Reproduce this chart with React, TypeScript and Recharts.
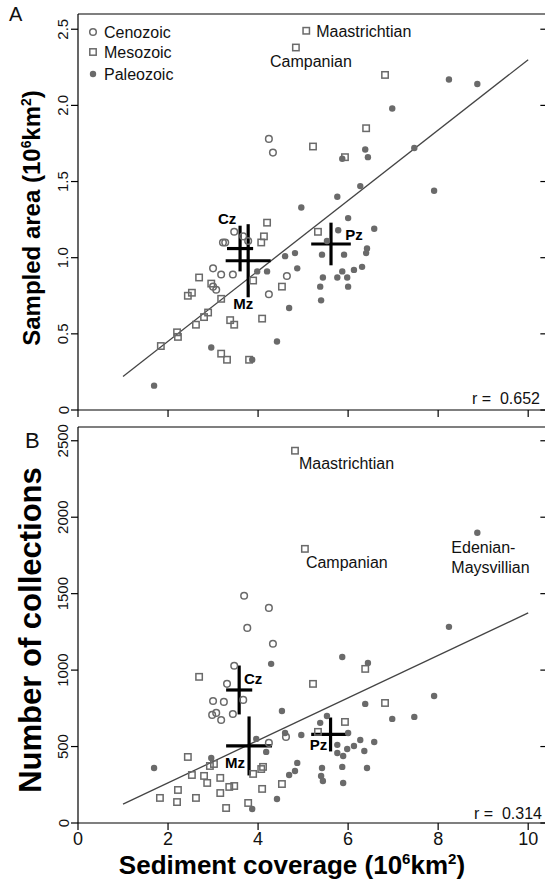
import React from "react";
import { ScatterChart, Scatter, XAxis, YAxis, ReferenceLine, ErrorBar, Label } from "recharts";

const FONT = "'Liberation Sans', Arial, Helvetica, sans-serif";
const GREY = "#6a6a6a";
const INK = "#111";

// ─── shared x axis (sediment coverage, 10^6 km^2) ──────────────────────────
// the plot runs slightly past the right edge of the picture, as in the source figure
const X_MAX = 10.44;
const X_TICKS = [0, 2, 4, 6, 8, 10];
const RIGHT_TICK_FROM = 10.27;
const GROUPS = ["Cz", "Mz", "Pz"];

// ─── panel A: sampled area (10^6 km^2) ───────────────────────────────────────
const Y_MAX_A = 2.6;
const Y_TICKS_A = [0, 0.5, 1, 1.5, 2, 2.5];
const CENOZOIC_A: [number, number][] = [
  [4.24, 1.78], [4.33, 1.69], [3.47, 1.17], [3.67, 1.14], [3.27, 1.1], [3.22, 1.1], [3.78, 1.11],
  [3.0, 0.93], [3.18, 0.89], [3.44, 0.89], [3.0, 0.81], [3.07, 0.79], [4.24, 0.76], [4.64, 0.88],
];
const MESOZOIC_A: [number, number][] = [
  [6.82, 2.2], [6.4, 1.85], [5.22, 1.73], [5.93, 1.66], [5.33, 1.17], [4.2, 1.23], [4.13, 1.14],
  [4.07, 1.1], [2.69, 0.87], [2.53, 0.77], [2.44, 0.75], [2.96, 0.83], [3.89, 0.85], [3.18, 0.73],
  [4.53, 0.81], [2.89, 0.64], [2.8, 0.61], [2.62, 0.56], [3.38, 0.59], [3.47, 0.56], [4.09, 0.6],
  [2.2, 0.51], [2.22, 0.48], [1.84, 0.42], [3.18, 0.37], [3.31, 0.33], [3.8, 0.33],
];
const PALEOZOIC_A: [number, number][] = [
  [8.24, 2.17], [8.87, 2.14], [6.98, 1.98], [6.38, 1.71], [7.47, 1.72], [5.87, 1.65], [6.44, 1.66],
  [6.27, 1.47], [7.91, 1.44], [5.76, 1.4], [4.96, 1.33], [6.0, 1.26], [5.78, 1.18], [6.58, 1.19],
  [5.53, 1.11], [6.42, 1.06], [6.4, 1.03], [4.6, 1.01], [4.82, 1.03], [5.42, 1.02], [5.91, 1.02],
  [4.87, 0.93], [6.31, 0.94], [6.13, 0.92], [5.87, 0.91], [5.44, 0.87], [5.76, 0.87], [5.98, 0.87],
  [5.38, 0.81], [6.0, 0.81], [5.4, 0.72], [4.69, 0.67], [3.98, 0.91], [4.2, 0.91], [4.42, 0.45],
  [2.96, 0.41], [3.87, 0.33], [1.69, 0.16],
];
const NAMED_MESO_A: [string, number, number][] = [
  ["Maastrichtian", 5.07, 2.49],
  ["Campanian", 4.84, 2.38],
];
const MEAN_X_A = [3.6, 3.78, 5.62];
const MEAN_Y_A = [1.06, 0.98, 1.09];
const SPREAD_X_A = [0.29, 0.5, 0.44];
const SPREAD_Y_A = [0.15, 0.24, 0.14];
const FIT_A: [number, number][] = [[1.0, 0.22], [10.0, 2.3]];
const R_A = "0.652";

// ─── panel B: number of collections ──────────────────────────────────────────
const Y_MAX_B = 2590;
const Y_TICKS_B = [0, 500, 1000, 1500, 2000, 2500];
const CENOZOIC_B: [number, number][] = [
  [3.69, 1486], [4.24, 1407], [3.76, 1276], [4.33, 1172], [3.47, 1028], [3.31, 910], [3.67, 805],
  [3.0, 798], [3.24, 792], [3.44, 713], [2.98, 707], [3.07, 720], [3.18, 674], [4.24, 524], [4.62, 563],
];
const MESOZOIC_B: [number, number][] = [
  [6.38, 1008], [5.22, 910], [6.82, 785], [5.93, 661], [5.33, 596], [2.69, 956], [2.44, 432],
  [3.02, 386], [2.93, 373], [4.11, 367], [4.07, 353], [3.89, 321], [2.53, 314], [2.8, 308],
  [2.87, 262], [3.16, 295], [3.36, 236], [3.47, 242], [3.16, 196], [2.22, 216], [2.2, 137],
  [1.82, 164], [2.62, 164], [3.29, 98], [3.78, 131], [4.09, 223], [4.53, 255],
];
const PALEOZOIC_B: [number, number][] = [
  [8.24, 1283], [5.87, 1086], [6.44, 1047], [7.91, 831], [6.38, 779], [6.98, 681], [7.47, 694],
  [4.53, 733], [5.53, 700], [5.38, 655], [6.0, 589], [4.96, 576], [4.6, 589], [6.58, 530],
  [6.27, 543], [6.13, 504], [5.76, 511], [5.98, 484], [5.76, 458], [5.89, 438], [6.36, 471],
  [4.29, 1041], [3.96, 550], [4.18, 465], [1.69, 360], [2.96, 425], [4.69, 314], [4.82, 340],
  [4.87, 393], [5.42, 360], [5.4, 308], [5.44, 275], [5.87, 367], [5.89, 262], [3.87, 92],
  [4.42, 157], [6.42, 360],
];
const NAMED_MESO_B: [string, number, number][] = [
  ["Maastrichtian", 4.82, 2435],
  ["Campanian", 5.04, 1793],
];
const NAMED_PALEO_B: [string, number, number][] = [["Edenian-Maysvillian", 8.87, 1898]];
const MEAN_X_B = [3.58, 3.8, 5.61];
const MEAN_Y_B = [870, 504, 579];
const SPREAD_X_B = [0.29, 0.51, 0.43];
const SPREAD_Y_B = [160, 193, 111];
const FIT_B: [number, number][] = [[1.0, 124], [10.0, 1374]];
const R_B = "0.314";

// label placement (pixels, relative to the point)
const NOTE_A: Record<string, { dx: number; dy: number; anchor: string }> = {
  Maastrichtian: { dx: 10, dy: 0, anchor: "start" },
  Campanian: { dx: 15, dy: 13, anchor: "middle" },
};
const NOTE_B: Record<string, { dx: number; dy: number; anchor: string }> = {
  Maastrichtian: { dx: 4, dy: 12, anchor: "start" },
  Campanian: { dx: 1, dy: 13, anchor: "start" },
  "Edenian-Maysvillian": { dx: -26, dy: 14, anchor: "start" },
};
const GROUP_LABEL_A: Record<string, [number, number]> = { Cz: [-13, -30], Mz: [-5, 43], Pz: [23, -9] };
const GROUP_LABEL_B: Record<string, [number, number]> = { Cz: [14, -11], Mz: [-14, 17], Pz: [-12, 10] };

const toPoints = (rows: [number, number][]) => rows.map(([x, y]) => ({ x, y }));
const toNamed = (rows: [string, number, number][]) => rows.map(([name, x, y]) => ({ name, x, y }));
const toMeans = (mx: number[], my: number[], sx: number[], sy: number[]) =>
  GROUPS.map((name, i) => ({ name, x: mx[i], y: my[i], ex: sx[i], ey: sy[i] }));

// ─── marker shapes ───────────────────────────────────────────────────────────
const OpenCircle = (p: any) => <circle cx={p.cx} cy={p.cy} r={3.3} fill="none" stroke={GREY} strokeWidth={1.5} />;
const OpenSquare = (p: any) => (
  <rect x={p.cx - 3.2} y={p.cy - 3.2} width={6.4} height={6.4} fill="none" stroke={GREY} strokeWidth={1.5} />
);
const Dot = (p: any) => <circle cx={p.cx} cy={p.cy} r={3.2} fill={GREY} />;

const noteShape = (Marker: any, notes: typeof NOTE_A) => (p: any) => {
  const s = notes[p.payload.name];
  const lines = p.payload.name.replace("-", "-\n").split("\n");
  return (
    <g>
      <Marker cx={p.cx} cy={p.cy} />
      <text x={p.cx + s.dx} y={p.cy + s.dy} textAnchor={s.anchor} fontSize={16} fontFamily={FONT} fill={INK} dominantBaseline="central">
        {lines.map((l: string, i: number) => (
          <tspan key={i} x={p.cx + s.dx} dy={i === 0 ? 0 : 20}>{l}</tspan>
        ))}
      </text>
    </g>
  );
};

const groupLabel = (offsets: Record<string, [number, number]>) => (p: any) => {
  const [dx, dy] = offsets[p.payload.name];
  return (
    <text x={p.cx + dx} y={p.cy + dy} textAnchor="middle" dominantBaseline="central" fontSize={15} fontWeight="bold" fontFamily={FONT} fill="#000">
      {p.payload.name}
    </text>
  );
};

const yTick = (fmt: (v: number) => string) => (p: any) => (
  <text x={63} y={p.y} transform={`rotate(-90 63 ${p.y})`} textAnchor="middle" dominantBaseline="central" fontSize={15} fontFamily={FONT} fill={INK}>
    {fmt(p.payload.value)}
  </text>
);

const xTick = (p: any) => (
  <text x={p.x} y={p.y + 13} textAnchor="middle" fontSize={18} fontFamily={FONT} fill={INK}>{p.payload.value}</text>
);

const Unit = ({ size }: { size: number }) => (
  <>
    (10<tspan fontSize={size * 0.58} dy={-size * 0.38}>6</tspan>
    <tspan dy={size * 0.38}>km</tspan>
    <tspan fontSize={size * 0.58} dy={-size * 0.38}>2</tspan>
    <tspan dy={size * 0.38}>)</tspan>
  </>
);

const yTitle = (text: string, size: number, unit: boolean, cx: number, cy: number) => () => (
  <text x={cx} y={cy} transform={`rotate(-90 ${cx} ${cy})`} textAnchor="middle" fontSize={size} fontWeight="bold" fontFamily={FONT} fill="#000">
    {text}
    {unit && <Unit size={size} />}
  </text>
);

interface PanelProps {
  height: number;
  top: number;
  xHeight: number;
  yMax: number;
  yTicks: number[];
  fmt: (v: number) => string;
  ceno: [number, number][];
  meso: [number, number][];
  paleo: [number, number][];
  namedMeso: [string, number, number][];
  namedPaleo: [string, number, number][];
  notes: typeof NOTE_A;
  means: ReturnType<typeof toMeans>;
  labelOffsets: Record<string, [number, number]>;
  fit: [number, number][];
  title: React.ReactNode;
  xLabels: boolean;
}

function Panel(p: PanelProps) {
  return (
    <ScatterChart width={548} height={p.height} margin={{ top: p.top, right: 0, bottom: 0, left: 0 }}>
      <XAxis
        type="number"
        dataKey="x"
        domain={[0, X_MAX]}
        ticks={X_TICKS}
        allowDataOverflow
        height={p.xHeight}
        tickSize={7}
        axisLine={{ stroke: "#000", strokeWidth: 1.2 }}
        tickLine={{ stroke: "#000", strokeWidth: 1.2 }}
        tick={p.xLabels ? xTick : () => <g />}
      >
        {p.xLabels && (
          <Label
            content={() => (
              <text x={292} y={454} textAnchor="middle" fontSize={26} fontWeight="bold" fontFamily={FONT} fill="#000">
                Sediment coverage <Unit size={26} />
              </text>
            )}
          />
        )}
      </XAxis>
      <YAxis
        type="number"
        dataKey="y"
        domain={[0, p.yMax]}
        ticks={p.yTicks}
        allowDataOverflow
        width={78}
        tickSize={7}
        axisLine={{ stroke: "#000", strokeWidth: 1.2 }}
        tickLine={{ stroke: "#000", strokeWidth: 1.2 }}
        tick={yTick(p.fmt)}
      >
        <Label content={p.title as any} />
      </YAxis>
      <ReferenceLine y={p.yMax} stroke="#000" strokeWidth={1.2} />
      {p.yTicks.map((t) => (
        <ReferenceLine
          key={t}
          segment={[{ x: RIGHT_TICK_FROM, y: t }, { x: X_MAX, y: t }]}
          ifOverflow="visible"
          stroke="#000"
          strokeWidth={1.2}
        />
      ))}
      <ReferenceLine
        segment={[{ x: p.fit[0][0], y: p.fit[0][1] }, { x: p.fit[1][0], y: p.fit[1][1] }]}
        stroke="#444"
        strokeWidth={1.3}
      />
      <Scatter data={toPoints(p.meso)} shape={OpenSquare} isAnimationActive={false} />
      <Scatter data={toPoints(p.ceno)} shape={OpenCircle} isAnimationActive={false} />
      <Scatter data={toPoints(p.paleo)} shape={Dot} isAnimationActive={false} />
      <Scatter data={toNamed(p.namedMeso)} shape={noteShape(OpenSquare, p.notes)} isAnimationActive={false} />
      <Scatter data={toNamed(p.namedPaleo)} shape={noteShape(Dot, p.notes)} isAnimationActive={false} />
      <Scatter data={p.means} shape={groupLabel(p.labelOffsets)} isAnimationActive={false}>
        <ErrorBar dataKey="ex" direction="x" width={0} strokeWidth={3.2} stroke="#000" isAnimationActive={false} />
        <ErrorBar dataKey="ey" direction="y" width={0} strokeWidth={3.2} stroke="#000" isAnimationActive={false} />
      </Scatter>
    </ScatterChart>
  );
}

export default function App() {
  return (
    <div style={{ position: "absolute", left: 0, top: 0, width: 545, height: 880, overflow: "hidden", background: "#fff", fontFamily: FONT }}>
      <style>{"html, body { margin: 0; overflow: hidden; }"}</style>
      <div style={{ position: "absolute", left: 0, top: 0 }}>
        <Panel
          height={420}
          top={14}
          xHeight={10}
          yMax={Y_MAX_A}
          yTicks={Y_TICKS_A}
          fmt={(v) => (v === 0 ? "0" : v.toFixed(1))}
          ceno={CENOZOIC_A}
          meso={MESOZOIC_A}
          paleo={PALEOZOIC_A}
          namedMeso={NAMED_MESO_A}
          namedPaleo={[]}
          notes={NOTE_A}
          means={toMeans(MEAN_X_A, MEAN_Y_A, SPREAD_X_A, SPREAD_Y_A)}
          labelOffsets={GROUP_LABEL_A}
          fit={FIT_A}
          title={yTitle("Sampled area ", 24, true, 40, 218)}
          xLabels={false}
        />
      </div>
      <div style={{ position: "absolute", left: 0, top: 420 }}>
        <Panel
          height={460}
          top={7}
          xHeight={57}
          yMax={Y_MAX_B}
          yTicks={Y_TICKS_B}
          fmt={(v) => String(v)}
          ceno={CENOZOIC_B}
          meso={MESOZOIC_B}
          paleo={PALEOZOIC_B}
          namedMeso={NAMED_MESO_B}
          namedPaleo={NAMED_PALEO_B}
          notes={NOTE_B}
          means={toMeans(MEAN_X_B, MEAN_Y_B, SPREAD_X_B, SPREAD_Y_B)}
          labelOffsets={GROUP_LABEL_B}
          fit={FIT_B}
          title={yTitle("Number of collections", 31, false, 41, 210)}
          xLabels={true}
        />
      </div>
      <svg width={545} height={880} style={{ position: "absolute", left: 0, top: 0, pointerEvents: "none" }}>
        <g fontFamily={FONT} fill={INK}>
          <text x={9} y={21} fontSize={20}>A</text>
          <text x={25} y={448} fontSize={22}>B</text>
          <circle cx={93} cy={32} r={3.3} fill="none" stroke={GREY} strokeWidth={1.5} />
          <text x={104} y={32} fontSize={16} dominantBaseline="central">Cenozoic</text>
          <rect x={89.8} y={48.8} width={6.4} height={6.4} fill="none" stroke={GREY} strokeWidth={1.5} />
          <text x={104} y={52} fontSize={16} dominantBaseline="central">Mesozoic</text>
          <circle cx={93} cy={74} r={3.2} fill={GREY} />
          <text x={104} y={74} fontSize={16} dominantBaseline="central">Paleozoic</text>
          <text x={540} y={404} fontSize={16} textAnchor="end" style={{ whiteSpace: "pre" }}>{`r =  ${R_A}`}</text>
          <text x={542} y={819} fontSize={16} textAnchor="end" style={{ whiteSpace: "pre" }}>{`r =  ${R_B}`}</text>
        </g>
      </svg>
    </div>
  );
}
